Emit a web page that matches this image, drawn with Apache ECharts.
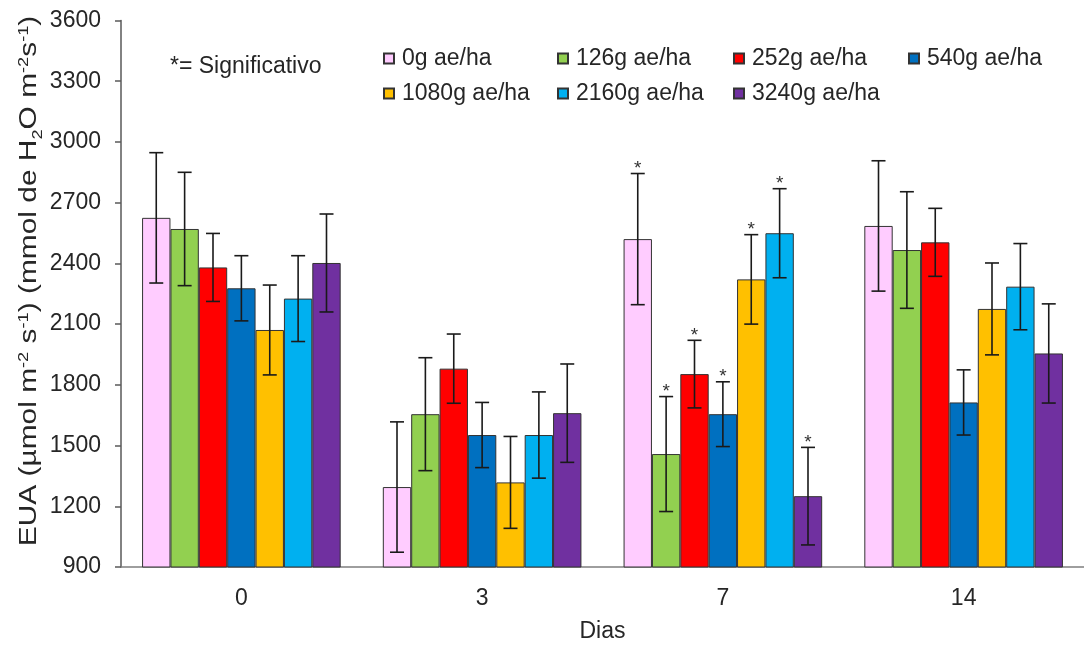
<!DOCTYPE html>
<html>
<head>
<meta charset="utf-8">
<script src="https://cdn.jsdelivr.net/npm/echarts@6/dist/echarts.min.js"></script>
<style>
html,body{margin:0;padding:0;background:#fff;}
#chart{width:1084px;height:648px;}
</style>
</head>
<body>
<div id="chart"></div>
<script>
const categories = ['0', '3', '7', '14'];
const seriesNames = ['0g ae/ha', '126g ae/ha', '252g ae/ha', '540g ae/ha', '1080g ae/ha', '2160g ae/ha', '3240g ae/ha'];
const colors = ['#FFCCFF', '#92D050', '#FF0000', '#0070C0', '#FFC000', '#00B0F0', '#7030A0'];

const val0g = [2625, 1295, 2520, 2585];
const val126g = [2570, 1655, 1458, 2466];
const val252g = [2380, 1880, 1853, 2504];
const val540g = [2277, 1552, 1655, 1713];
const val1080g = [2071, 1318, 2321, 2175];
const val2160g = [2226, 1552, 2549, 2285];
const val3240g = [2402, 1660, 1250, 1955];

const err0g = [322, 322, 324, 322];
const err126g = [280, 279, 284, 288];
const err252g = [168, 171, 167, 168];
const err540g = [161, 161, 160, 161];
const err1080g = [222, 227, 221, 227];
const err2160g = [212, 213, 220, 213];
const err3240g = [242, 243, 241, 245];

// significance flags per category (day): 1 = '*'
const sig0g = [0, 0, 1, 0];
const sig126g = [0, 0, 1, 0];
const sig252g = [0, 0, 1, 0];
const sig540g = [0, 0, 1, 0];
const sig1080g = [0, 0, 1, 0];
const sig2160g = [0, 0, 1, 0];
const sig3240g = [0, 0, 1, 0];

const yTicks = { min: 900, max: 3600, interval: 300 };

const values = [val0g, val126g, val252g, val540g, val1080g, val2160g, val3240g];
const errors = [err0g, err126g, err252g, err540g, err1080g, err2160g, err3240g];
const sigs = [sig0g, sig126g, sig252g, sig540g, sig1080g, sig2160g, sig3240g];

const FONT = "'Liberation Sans', Arial, sans-serif";
const TXT = '#262626';
const CAT_GAP = 0.175;
const N = seriesNames.length;

const barSeries = seriesNames.map((name, i) => ({
  name: name,
  type: 'bar',
  data: values[i],
  barGap: '0%',
  barCategoryGap: (CAT_GAP * 100) + '%',
  itemStyle: { color: colors[i], borderColor: '#333', borderWidth: 1 },
  z: 2
}));

const errData = [];
for (let s = 0; s < N; s++) {
  for (let c = 0; c < categories.length; c++) {
    errData.push([c, values[s][c] - errors[s][c], values[s][c] + errors[s][c], s, sigs[s][c]]);
  }
}

const errSeries = {
  type: 'custom',
  name: 'err',
  z: 5,
  silent: true,
  data: errData,
  encode: { x: 0, y: [1, 2] },
  renderItem: function (params, api) {
    const c = api.value(0);
    const s = api.value(3);
    const band = api.size([1, 0])[0];
    const bw = band * (1 - CAT_GAP) / N;
    const lo = api.coord([c, api.value(1)]);
    const hi = api.coord([c, api.value(2)]);
    const x = lo[0] + (s - (N - 1) / 2) * bw;
    const cap = 7;
    const st = { stroke: '#1a1a1a', lineWidth: 1.6 };
    const children = [
      { type: 'line', shape: { x1: x, y1: lo[1], x2: x, y2: hi[1] }, style: st },
      { type: 'line', shape: { x1: x - cap, y1: lo[1], x2: x + cap, y2: lo[1] }, style: st },
      { type: 'line', shape: { x1: x - cap, y1: hi[1], x2: x + cap, y2: hi[1] }, style: st }
    ];
    if (api.value(4)) {
      children.push({
        type: 'text',
        style: { text: '*', x: x, y: hi[1] - 5, align: 'center', verticalAlign: 'middle', fontSize: 19, fontFamily: FONT, fill: '#333' }
      });
    }
    return { type: 'group', children: children };
  }
};

const legendCols = [383, 557, 733, 908];
const legendRows = [47, 82];
const legends = seriesNames.map((name, i) => ({
  icon: 'rect', itemWidth: 10, itemHeight: 10, padding: 0,
  textStyle: { fontSize: 23, fontFamily: FONT, color: TXT, padding: [0, 0, 0, 3] },
  selectedMode: false,
  left: legendCols[i % 4],
  top: legendRows[Math.floor(i / 4)],
  data: [name]
}));

const yTitle = '{b|EUA (µmol m}{sup|-2}{b| s}{sup|-1}{b|) (mmol de H}{sub|2}{b|O m}{sup|-2}{b|s}{sup|-1}{b|)}';

const option = {
  animation: false,
  backgroundColor: '#fff',
  color: colors,
  grid: { left: 121, top: 20.5, width: 964.4, height: 548.5, containLabel: false },
  legend: legends,
  graphic: [
    { type: 'text', left: 170, top: 55, style: { text: '*= Significativo', fontSize: 23, fontFamily: FONT, fill: TXT } },
    {
      type: 'text', x: 30, y: 281, rotation: Math.PI / 2, scaleX: 1.3, scaleY: 1,
      style: {
        text: yTitle, align: 'center', verticalAlign: 'middle', fontFamily: FONT, fill: TXT,
        rich: {
          b: { fontSize: 23, fontFamily: FONT, fill: TXT, lineHeight: 30, verticalAlign: 'middle' },
          sup: { fontSize: 14, fontFamily: FONT, fill: TXT, lineHeight: 30, verticalAlign: 'top', padding: [2, 0, 0, 0] },
          sub: { fontSize: 14, fontFamily: FONT, fill: TXT, lineHeight: 30, verticalAlign: 'bottom' }
        }
      }
    }
  ],
  xAxis: {
    type: 'category',
    data: categories,
    axisLine: { lineStyle: { color: '#7f7f7f', width: 1.5 } },
    axisTick: { show: false },
    axisLabel: { fontSize: 23, fontFamily: FONT, color: TXT, margin: 20 },
    name: 'Dias',
    nameLocation: 'middle',
    nameGap: 53,
    nameTextStyle: { fontSize: 23, fontFamily: FONT, color: TXT }
  },
  yAxis: {
    type: 'value',
    min: yTicks.min, max: yTicks.max, interval: yTicks.interval,
    splitLine: { show: false },
    axisLine: { show: true, lineStyle: { color: '#595959', width: 1.5 } },
    axisTick: { show: true, length: 6, lineStyle: { color: '#595959', width: 1.5 } },
    axisLabel: { fontSize: 23, fontFamily: FONT, color: TXT, margin: 20, formatter: function (v) { return String(v); } }
  },
  series: barSeries.concat([errSeries])
};

const chart = echarts.init(document.getElementById('chart'), null, { renderer: 'canvas' });
chart.setOption(option);
</script>
</body>
</html>
